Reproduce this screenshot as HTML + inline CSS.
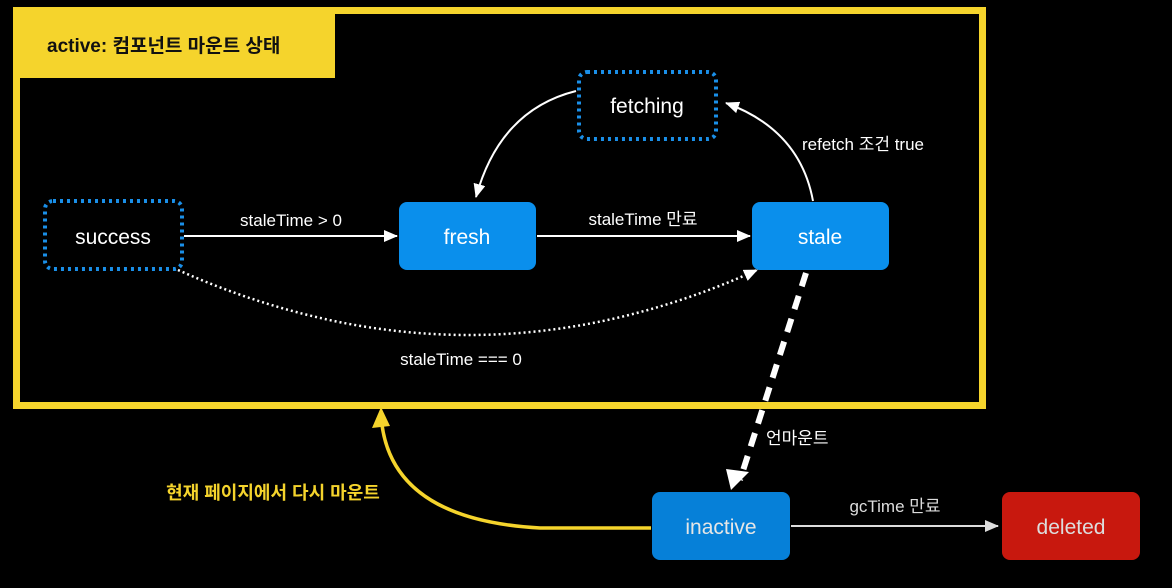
<!DOCTYPE html>
<html><head><meta charset="utf-8"><style>
html,body{margin:0;padding:0;background:#000;}
svg{display:block;}
text{font-family:"Liberation Sans","Noto Sans CJK KR",sans-serif;}
</style></head><body>
<svg width="1172" height="588" viewBox="0 0 1172 588" xmlns="http://www.w3.org/2000/svg">
<defs>
<marker id="a" markerWidth="14" markerHeight="12" refX="13" refY="6" orient="auto" markerUnits="userSpaceOnUse"><path d="M0,0 L14,6 L0,12 z" fill="#fff"/></marker>
<marker id="ag" markerWidth="14" markerHeight="12" refX="13" refY="6" orient="auto" markerUnits="userSpaceOnUse"><path d="M0,0 L14,6 L0,12 z" fill="#ddd"/></marker>
</defs>
<rect width="1172" height="588" fill="#000"/>
<rect x="16.5" y="10.5" width="966" height="395" fill="none" stroke="#f5d42c" stroke-width="7"/>
<rect x="13" y="7" width="322" height="71" fill="#f5d42c"/>
<text x="47" y="52" font-size="19" font-weight="bold" fill="#111">active: 컴포넌트 마운트 상태</text>

<rect x="45" y="201" width="137" height="68" rx="8" fill="none" stroke="#1a8fe8" stroke-width="4" stroke-dasharray="3,4"/>
<text x="113" y="244" font-size="21" fill="#fff" text-anchor="middle">success</text>
<rect x="579" y="72" width="137" height="67" rx="8" fill="none" stroke="#1a8fe8" stroke-width="4" stroke-dasharray="3,4"/>
<text x="647" y="113" font-size="21" fill="#fff" text-anchor="middle">fetching</text>
<rect x="399" y="202" width="137" height="68" rx="8" fill="#0a8fec"/>
<text x="467" y="244" font-size="21" fill="#fff" text-anchor="middle">fresh</text>
<rect x="752" y="202" width="137" height="68" rx="8" fill="#0a8fec"/>
<text x="820" y="244" font-size="21" fill="#fff" text-anchor="middle">stale</text>
<rect x="652" y="492" width="138" height="68" rx="8" fill="#0680d8"/>
<text x="721" y="534" font-size="21" fill="#e6e6e6" text-anchor="middle">inactive</text>
<rect x="1002" y="492" width="138" height="68" rx="8" fill="#c8180e"/>
<text x="1071" y="534" font-size="21" fill="#ddd" text-anchor="middle">deleted</text>

<line x1="184" y1="236" x2="397" y2="236" stroke="#fff" stroke-width="2" marker-end="url(#a)"/>
<text x="291" y="226" font-size="17" fill="#fff" text-anchor="middle">staleTime &gt; 0</text>
<line x1="537" y1="236" x2="750" y2="236" stroke="#fff" stroke-width="2" marker-end="url(#a)"/>
<text x="643" y="225" font-size="17" fill="#fff" text-anchor="middle">staleTime 만료</text>
<path d="M813,201 Q800,130 726,103" fill="none" stroke="#fff" stroke-width="2" marker-end="url(#a)"/>
<text x="802" y="150" font-size="17" fill="#fff">refetch 조건 true</text>
<path d="M576,91 Q500,110 476,197" fill="none" stroke="#fff" stroke-width="2" marker-end="url(#a)"/>
<path d="M178,270 Q470,400 757,270" fill="none" stroke="#fff" stroke-width="2.5" stroke-dasharray="2,3" marker-end="url(#a)"/>
<text x="461" y="365" font-size="17" fill="#fff" text-anchor="middle">staleTime === 0</text>
<path d="M806,273 L740,480" fill="none" stroke="#fff" stroke-width="6" stroke-dasharray="14,10"/>
<path d="M731,490 L726,469 L749,472 z" fill="#fff"/>
<text x="766" y="444" font-size="17" fill="#fff">언마운트</text>
<line x1="791" y1="526" x2="998" y2="526" stroke="#ddd" stroke-width="2" marker-end="url(#ag)"/>
<text x="895" y="512" font-size="17" fill="#ddd" text-anchor="middle">gcTime 만료</text>
<path d="M651,528 L540,528 Q395,520 382,425" fill="none" stroke="#f5d42c" stroke-width="3.5"/>
<path d="M381,407 L372,428 L390,426 z" fill="#f5d42c"/>
<text x="273" y="499" font-size="18" font-weight="bold" fill="#f5d42c" text-anchor="middle">현재 페이지에서 다시 마운트</text>
</svg>
</body></html>
